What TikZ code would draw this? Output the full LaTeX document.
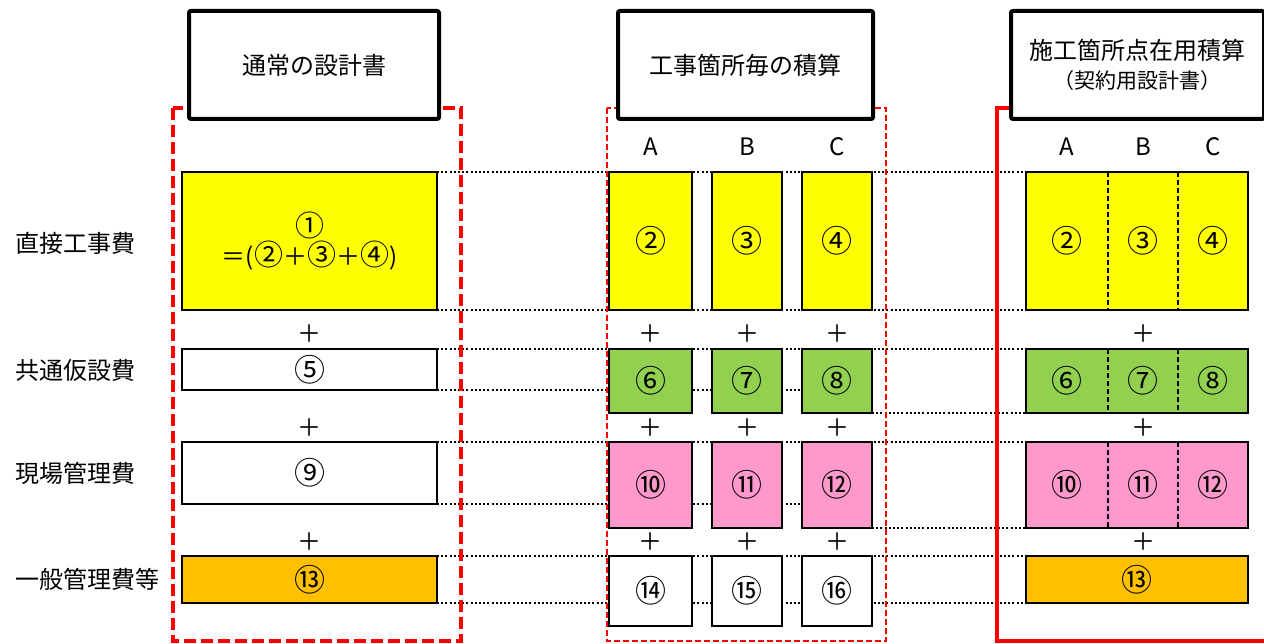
\documentclass[tikz,border=0pt]{standalone}
\usepackage{fontspec}
\setmainfont{Noto Sans CJK JP}
\usetikzlibrary{positioning, calc}
\definecolor{CostYellow}{RGB}{255, 255, 0}
\definecolor{CostGreen}{RGB}{146, 208, 80}
\definecolor{CostPink}{RGB}{255, 153, 204}
\definecolor{CostOrange}{RGB}{255, 192, 0}
\definecolor{FrameRed}{RGB}{255, 0, 0}
\pgfdeclarelayer{guides}
\pgfsetlayers{guides,main}
\newcommand{\sumnum}[1]{{\fontsize{29}{29}\selectfont#1}}

\begin{document}
\begin{tikzpicture}[
    x=1pt, y=-1pt,
    font=\fontsize{24}{29}\selectfont,
    % Global Styles
    header/.style={
        rectangle,
        draw=black,
        line width=4pt,
        fill=white,
        rounded corners=2pt,
        minimum height=108pt,
        anchor=north west,
        align=center,
        inner sep=0pt
    },
    cell/.style={
        rectangle,
        draw=black,
        line width=2.5pt,
        anchor=north west,
        align=center,
        inner sep=0pt,
        outer sep=0pt,
        font=\fontsize{31}{31}\selectfont
    },
    part/.style={              % one third of a joined row, no border
        rectangle,
        anchor=north west,
        inner sep=0pt,
        outer sep=0pt,
        font=\fontsize{31}{31}\selectfont
    },
    rowDirect/.style={fill=CostYellow, minimum height=138pt},
    rowCommon/.style={fill=CostGreen, minimum height=64pt},
    rowSite/.style={fill=CostPink, minimum height=86pt},
    rowGeneral/.style={fill=white, minimum height=70pt},
    rowlabel/.style={anchor=west, inner sep=0pt},
    colname/.style={inner sep=0pt},
    plus/.style={inner sep=0pt},
    outline/.style={draw=black, line width=2.5pt},
    guide/.style={draw=black, line width=2pt, dash pattern=on 2pt off 2.2pt},
    divider/.style={draw=black, line width=1.8pt, dash pattern=on 5pt off 3pt},
    frameL/.style={draw=FrameRed, line width=4pt, dash pattern=on 12pt off 5pt},
    frameM/.style={draw=FrameRed, line width=1.5pt, dash pattern=on 6pt off 3pt},
    frameR/.style={draw=FrameRed, line width=4pt}
]

    \useasboundingbox (0,0) rectangle (1264,644);

    % --- Red frames round the three columns ---
    \draw[frameL] (173,108) rectangle (461,641);
    \draw[frameM] (607,108) rectangle (886,641);
    \draw[frameR] (1009,108) -- (997,108) -- (997,641) -- (1270,641);

    % --- Headers ---
    \node[header, minimum width=250pt] (headL) at (187,9) {通常の設計書};
    \node[header, minimum width=255pt] (headM) at (616,9) {工事箇所毎の積算};
    \node[header, minimum width=253pt] (headR) at (1009,9)
        {施工箇所点在用積算\\{\fontsize{21}{24}\selectfont （契約用設計書）}};

    % --- Row labels ---
    \node[rowlabel] (lblDirect) at (15,243) {直接工事費};
    \node[rowlabel] (lblCommon) at (15,370) {共通仮設費};
    \node[rowlabel] (lblSite) at (15,473) {現場管理費};
    \node[rowlabel] (lblGeneral) at (15,579) {一般管理費等};

    % --- Left column: usual design document ---
    \node[cell, fill=CostYellow, minimum width=255pt, minimum height=138pt, font=\fontsize{24}{29}\selectfont] (l1) at (182,172)
        {\sumnum{①}\\＝(\sumnum{②}＋\sumnum{③}＋\sumnum{④})};
    \node[cell, fill=white, minimum width=255pt, minimum height=41pt] (l2) at (182,349) {⑤};
    \node[cell, fill=white, minimum width=255pt, minimum height=62pt] (l3) at (182,442) {⑨};
    \node[cell, fill=CostOrange, minimum width=255pt, minimum height=47pt] (l4) at (182,556) {⑬};

    % --- Middle column: one estimate per site ---
    \node[cell, rowDirect, minimum width=83pt] (m1a) at (609,172) {②};
    \node[cell, rowDirect, minimum width=70pt, right=20pt of m1a] (m1b) {③};
    \node[cell, rowDirect, minimum width=70pt, right=20pt of m1b] (m1c) {④};

    \node[cell, rowCommon, minimum width=83pt] (m2a) at (609,349) {⑥};
    \node[cell, rowCommon, minimum width=70pt, right=20pt of m2a] (m2b) {⑦};
    \node[cell, rowCommon, minimum width=70pt, right=20pt of m2b] (m2c) {⑧};

    \node[cell, rowSite, minimum width=83pt] (m3a) at (609,442) {⑩};
    \node[cell, rowSite, minimum width=70pt, right=20pt of m3a] (m3b) {⑪};
    \node[cell, rowSite, minimum width=70pt, right=20pt of m3b] (m3c) {⑫};

    \node[cell, rowGeneral, minimum width=83pt] (m4a) at (609,556) {⑭};
    \node[cell, rowGeneral, minimum width=70pt, right=20pt of m4a] (m4b) {⑮};
    \node[cell, rowGeneral, minimum width=70pt, right=20pt of m4b] (m4c) {⑯};

    \node[colname, above=16pt of m1a] (nameMA) {A};
    \node[colname, above=16pt of m1b] (nameMB) {B};
    \node[colname, above=16pt of m1c] (nameMC) {C};

    % --- Right column: scattered sites, joined rows ---
    \node[part, rowDirect, minimum width=82pt] (r1a) at (1026,172) {②};
    \node[part, rowDirect, minimum width=70pt, right=0pt of r1a] (r1b) {③};
    \node[part, rowDirect, minimum width=70pt, right=0pt of r1b] (r1c) {④};

    \node[part, rowCommon, minimum width=82pt] (r2a) at (1026,349) {⑥};
    \node[part, rowCommon, minimum width=70pt, right=0pt of r2a] (r2b) {⑦};
    \node[part, rowCommon, minimum width=70pt, right=0pt of r2b] (r2c) {⑧};

    \node[part, rowSite, minimum width=82pt] (r3a) at (1026,442) {⑩};
    \node[part, rowSite, minimum width=70pt, right=0pt of r3a] (r3b) {⑪};
    \node[part, rowSite, minimum width=70pt, right=0pt of r3b] (r3c) {⑫};

    \node[cell, fill=CostOrange, minimum width=222pt, minimum height=47pt] (r4) at (1026,556) {⑬};

    \draw[outline] (r1a.north west) rectangle (r1c.south east);
    \draw[outline] (r2a.north west) rectangle (r2c.south east);
    \draw[outline] (r3a.north west) rectangle (r3c.south east);
    \draw[divider] (r1a.north east) -- (r1a.south east);
    \draw[divider] (r1b.north east) -- (r1b.south east);
    \draw[divider] (r2a.north east) -- (r2a.south east);
    \draw[divider] (r2b.north east) -- (r2b.south east);
    \draw[divider] (r3a.north east) -- (r3a.south east);
    \draw[divider] (r3b.north east) -- (r3b.south east);

    \node[colname, above=16pt of r1a] (nameRA) {A};
    \node[colname, above=16pt of r1b] (nameRB) {B};
    \node[colname, above=16pt of r1c] (nameRC) {C};

    % --- Plus signs between the rows ---
    \coordinate (plusRow1) at (0,334);
    \coordinate (plusRow2) at (0,428);
    \coordinate (plusRow3) at (0,542);

    \node[plus] (pL1) at (l1.south |- plusRow1) {＋};
    \node[plus] (pL2) at (l1.south |- plusRow2) {＋};
    \node[plus] (pL3) at (l1.south |- plusRow3) {＋};
    \node[plus] (pA1) at (m1a.south |- plusRow1) {＋};
    \node[plus] (pA2) at (m1a.south |- plusRow2) {＋};
    \node[plus] (pA3) at (m1a.south |- plusRow3) {＋};
    \node[plus] (pB1) at (m1b.south |- plusRow1) {＋};
    \node[plus] (pB2) at (m1b.south |- plusRow2) {＋};
    \node[plus] (pB3) at (m1b.south |- plusRow3) {＋};
    \node[plus] (pC1) at (m1c.south |- plusRow1) {＋};
    \node[plus] (pC2) at (m1c.south |- plusRow2) {＋};
    \node[plus] (pC3) at (m1c.south |- plusRow3) {＋};
    \node[plus] (pR1) at (r1b.south |- plusRow1) {＋};
    \node[plus] (pR2) at (r1b.south |- plusRow2) {＋};
    \node[plus] (pR3) at (r1b.south |- plusRow3) {＋};

    % --- Dotted guides, kept behind everything ---
    \begin{pgfonlayer}{guides}
        \fill[white] (0,0) rectangle (1264,644);
        \draw[guide] (l1.north east) -- (r1a.north west);
        \draw[guide] (l1.south east) -- (r1a.south west);
        \draw[guide] (l2.north east) -- (r2a.north west);
        \draw[guide] (l2.south east) -- (l2.south east -| m2c.west);
        \draw[guide] (m2c.south east) -- (r2a.south west);
        \draw[guide] (l3.north east) -- (r3a.north west);
        \draw[guide] (l3.south east) -- (l3.south east -| m3c.west);
        \draw[guide] (m3c.south east) -- (r3a.south west);
        \draw[guide] (l4.north east) -- (r4.north west);
        \draw[guide] (l4.south east) -- (r4.south west);
    \end{pgfonlayer}

\end{tikzpicture}
\end{document}
